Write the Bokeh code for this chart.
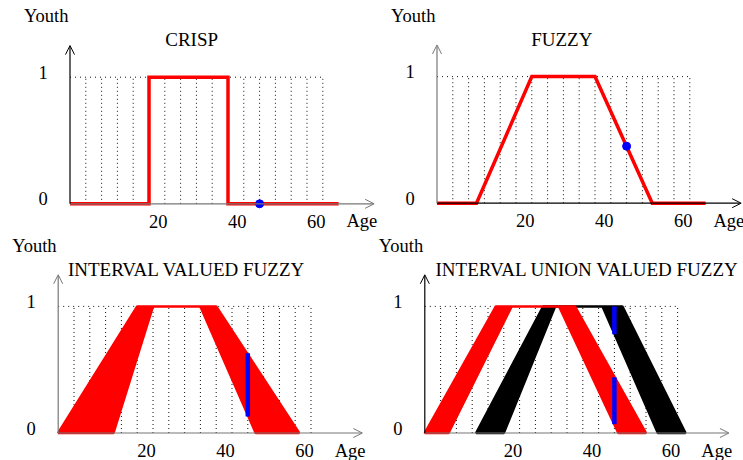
from bokeh.plotting import figure
from bokeh.layouts import column, row
from bokeh.models import Range1d, Arrow, OpenHead
from bokeh.core.properties import value
from bokeh.embed import file_html
from bokeh.resources import INLINE

# ---------------- data ----------------
AGE_TICKS = [20, 40, 60]
AGE_TICK_LABELS = ["20", "40", "60"]
YOUTH_TICKS = [0, 1]
YOUTH_TICK_LABELS = ["0", "1"]
GRID_AGES = [4, 8, 12, 16, 20, 24, 28, 32, 36, 40, 44, 48, 52, 56, 60, 64]
GRID_END = 64

crisp_age = [0, 20, 20, 40, 40, 68]
crisp_youth = [0, 0, 1, 1, 0, 0]

fuzzy_age = [0, 10, 24, 40, 54.5, 68]
fuzzy_youth = [0, 0, 1, 1, 0, 0]

probe_age = 48
crisp_probe = 0.0
fuzzy_probe = 0.45

trap_youth = [0, 1, 1, 0]
iv_upper_age = [0, 20, 40, 61]
iv_lower_age = [14, 24, 36, 50]
iv_probe = [0.13, 0.63]

red_upper_age = [0, 18, 38, 56]
red_lower_age = [6, 22, 34, 49]
black_upper_age = [13, 30, 50, 66]
black_lower_age = [20, 33, 45, 59]
iuv_probe_red = [0.07, 0.44]
iuv_probe_black = [0.78, 1.0]

titles = ["CRISP", "FUZZY", "INTERVAL VALUED FUZZY", "INTERVAL UNION VALUED FUZZY"]

# ---------------- layout constants ----------------
PPY = 3.95     # pixels per year
PPU = 126.6    # pixels per youth unit
FONT = value("Liberation Serif")
FSIZE = value("18.5px")
TSIZE = value("19px")
AX_X_END = 77
AX_Y_END = 1.25


def panel(width, height, fig_left, fig_top, ax_x, base_y, title, title_x,
          ycol="#000000", xcol="#777777"):
    xs = (fig_left - ax_x) / PPY
    xe = (fig_left + width - ax_x) / PPY
    ye = (base_y - fig_top) / PPU
    ys = (base_y - (fig_top + height)) / PPU
    p = figure(width=width, height=height, x_range=Range1d(xs, xe), y_range=Range1d(ys, ye),
               output_backend="svg", toolbar_location=None, title=None,
               x_axis_location=None, y_axis_location=None, min_border=0)
    p.outline_line_color = None
    p.grid.visible = False
    p.background_fill_color = "white"
    p.border_fill_color = "white"

    # dotted grid
    p.segment(x0=GRID_AGES, y0=[0] * len(GRID_AGES), x1=GRID_AGES, y1=[1] * len(GRID_AGES),
              line_color="#111111", line_width=1, line_dash="1 3")
    p.segment(x0=[0], y0=[1], x1=[GRID_END], y1=[1], line_color="#111111",
              line_width=1, line_dash="1 4")

    # axes with arrows
    p.add_layout(Arrow(end=OpenHead(size=9, line_color=xcol, line_width=1),
                       x_start=0, y_start=0, x_end=AX_X_END, y_end=0,
                       line_color=xcol, line_width=1.2))
    p.add_layout(Arrow(end=OpenHead(size=9, line_color=ycol, line_width=1),
                       x_start=0, y_start=0, x_end=0, y_end=AX_Y_END,
                       line_color=ycol, line_width=1.2))

    # tick labels
    p.text(x=AGE_TICKS, y=[0] * len(AGE_TICKS), text=AGE_TICK_LABELS, text_align="left",
           text_baseline="middle", y_offset=17.5, text_font=FONT, text_font_size=FSIZE,
           text_color="black")
    p.text(x=[0] * len(YOUTH_TICKS), y=YOUTH_TICKS, text=YOUTH_TICK_LABELS, text_align="center",
           text_baseline="middle", x_offset=-27, y_offset=-5, text_font=FONT,
           text_font_size=FSIZE, text_color="black")
    p.text(x=[70], y=[0], text=["Age"], text_align="left", text_baseline="middle",
           y_offset=17.5, text_font=FONT, text_font_size=FSIZE, text_color="black")
    p.text(x=[0], y=[1.48], text=["Youth"], text_align="left", text_baseline="middle",
           x_offset=-46, text_font=FONT, text_font_size=FSIZE, text_color="black")
    p.text(x=[title_x], y=[1.295], text=[title], text_align="center", text_baseline="middle",
           text_font=FONT, text_font_size=TSIZE, text_color="black")
    return p


# row 1: image y 0..231, row 2: image y 231..460
p1 = panel(386, 231, 0, 0, 69.5, 203.3, titles[0], 30.8, ycol="#000000", xcol="#777777")
p2 = panel(357, 231, 386, 0, 436.5, 202.7, titles[1], 31.6, ycol="#777777", xcol="#000000")
p3 = panel(374, 229, 0, 231, 57.7, 432.5, titles[2], 32.5, ycol="#777777", xcol="#777777")
p4 = panel(369, 229, 374, 231, 424.3, 432.5, titles[3], 41.1, ycol="#000000", xcol="#777777")

# CRISP
p1.line(crisp_age, crisp_youth, line_color="red", line_width=3.5, line_join="miter")
p1.scatter([probe_age], [crisp_probe], size=8, color="blue")

# FUZZY
p2.line(fuzzy_age, fuzzy_youth, line_color="red", line_width=3.5, line_join="miter")
p2.scatter([probe_age], [fuzzy_probe], size=8, color="blue")

# INTERVAL VALUED FUZZY
p3.patch(iv_upper_age + iv_lower_age[::-1], trap_youth + trap_youth[::-1],
         fill_color="red", line_color="red", line_width=2.5)
p3.segment(x0=[probe_age], y0=[iv_probe[0]], x1=[probe_age], y1=[iv_probe[1]],
           line_color="blue", line_width=4.5)

# INTERVAL UNION VALUED FUZZY
p4.patch(black_upper_age + black_lower_age[::-1], trap_youth + trap_youth[::-1],
         fill_color="black", line_color="black", line_width=2.5)
p4.patch(red_upper_age + red_lower_age[::-1], trap_youth + trap_youth[::-1],
         fill_color="red", line_color="red", line_width=2.5)
p4.segment(x0=[probe_age, probe_age], y0=[iuv_probe_red[0], iuv_probe_black[0]],
           x1=[probe_age, probe_age], y1=[iuv_probe_red[1], iuv_probe_black[1]],
           line_color="blue", line_width=4.5)

layout = column(row(p1, p2), row(p3, p4))
open("out.html", "w").write(file_html(layout, INLINE))
